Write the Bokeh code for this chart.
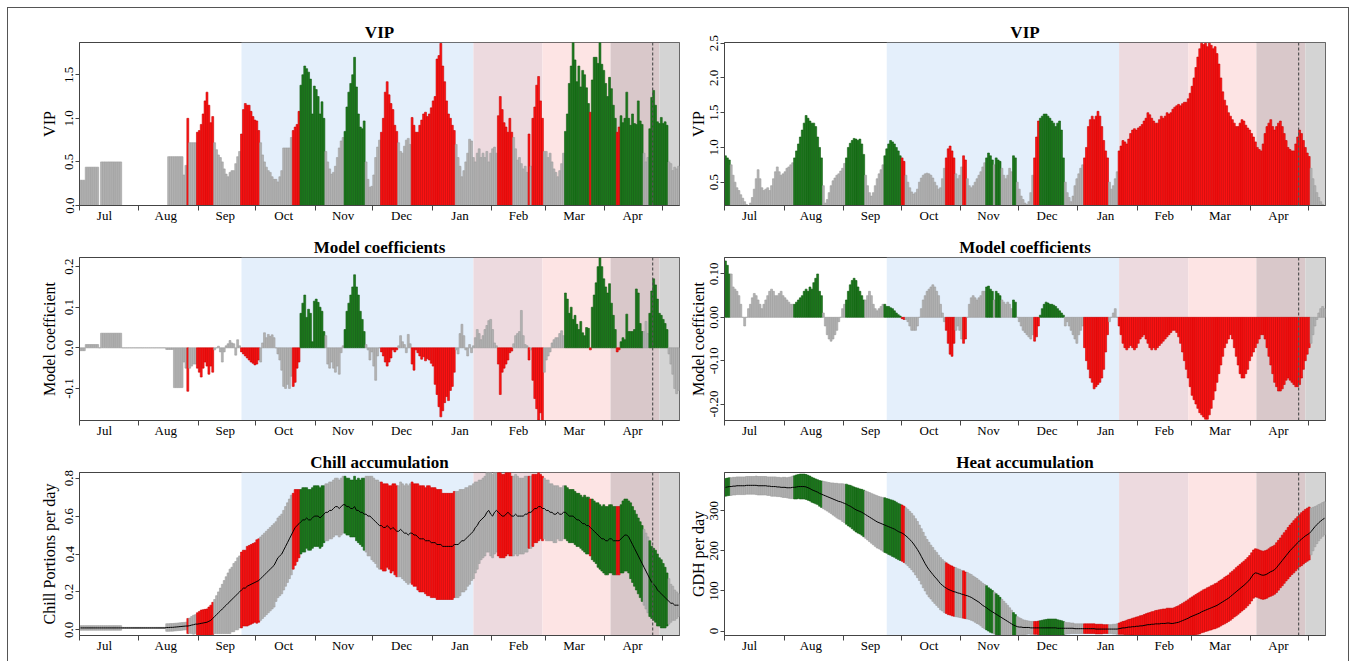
from bokeh.plotting import figure
from bokeh.models import ColumnDataSource, FixedTicker, Range1d, Span, BoxAnnotation, NumeralTickFormatter
from bokeh.layouts import gridplot, column
from bokeh.embed import file_html
from bokeh.resources import INLINE

# ---------------- data (one value per day, day 0 = 1 July) ----------------
N_DAYS = 313
MONTH_STARTS = [0, 31, 62, 92, 123, 153, 184, 215, 243, 274, 304]
MONTH_LABELS = ["Jul", "Aug", "Sep", "Oct", "Nov", "Dec", "Jan", "Feb", "Mar", "Apr"]
MONTH_LABEL_DAYS = [13, 45, 76, 106.5, 137.5, 168, 198.5, 229, 258, 288.5]
SHADE_EDGES = [84.5, 205.5, 241.5, 277.0, 302.5, 313.0]
SHADE_COLORS = ["#E4EFFB", "#EDDADF", "#FDE4E4", "#D9C8CA", "#D4D4D4"]
BLOOM_MEAN_DAY = 299.0
VIP_THRESHOLD = 0.8

VIP_L = ([0.29]*3 + [0.44]*7 + [0.0] + [0.50]*11 + [0.0]*23 + [0.0] + [0.56]*8 + [0.35, 0.46] + [1.0]
         + [0.72, 0.72, 0.72, 0.72]
         + [0.84, 0.86, 0.93, 1.05, 1.2, 1.3, 1.15, 0.95, 1.02]
         + [0.72, 0.64, 0.58, 0.55, 0.5, 0.42, 0.36, 0.33, 0.38, 0.4, 0.4, 0.48, 0.56] + [0.62]
         + [0.82, 1.1, 1.17, 1.15, 1.15, 1.08, 1.02, 0.98, 0.97, 0.86]
         + [0.72, 0.58, 0.5, 0.44, 0.4, 0.38, 0.33, 0.3]
         + [0.3, 0.27, 0.33, 0.4, 0.66, 0.66, 0.66, 0.66, 0.78]
         + [0.86, 0.9, 0.93, 1.08]
         + [1.38, 1.5, 1.6, 1.57, 1.53, 1.45, 1.05, 1.37, 1.33, 1.25, 1.05, 1.19, 1.0]
         + [0.62, 0.5, 0.42, 0.36, 0.38, 0.45, 0.55, 0.66, 0.74, 0.78]
         + [0.85, 1.13, 1.3, 1.4, 1.5, 1.7, 1.36, 1.05, 0.9, 0.88, 0.97]
         + [0.5, 0.3, 0.21, 0.22, 0.35, 0.55, 0.67, 0.75]
         + [0.84, 1.0, 1.3, 1.42, 1.27, 1.17, 1.1, 0.92, 0.85]
         + [0.72, 0.62, 0.6, 0.68, 0.75, 0.77, 0.7]
         + [1.01, 0.92, 0.84, 0.84, 0.92, 0.98, 1.05, 1.07, 1.02, 1.05, 1.12, 1.2, 1.25, 1.68, 1.72, 1.86,
            1.6, 1.42, 1.2, 1.05, 1.0, 0.92, 0.86]
         + [0.7, 0.55, 0.45, 0.33, 0.4, 0.5, 0.6, 0.76, 0.74, 0.55, 0.5, 0.6, 0.65, 0.55]
         + [0.6, 0.55, 0.62, 0.5, 0.6, 0.65, 0.67, 0.6]
         + [1.03, 1.25, 1.1, 0.95, 0.9, 0.84, 1.0, 0.84]
         + [0.78, 0.65, 0.52, 0.55, 0.48, 0.42, 0.45, 0.38]
         + [0.82, 0.45]
         + [1.0, 1.13, 1.38, 1.48, 1.2, 1.0]
         + [0.62, 0.62, 0.55, 0.6, 0.5, 0.42, 0.38, 0.33, 0.4, 0.48, 0.6]
         + [0.85, 1.05, 1.4, 1.6, 1.88, 1.67, 1.42, 1.6, 1.36, 1.55, 1.5, 1.35, 1.17]
         + [1.07]
         + [1.44, 1.7, 1.7, 1.63, 1.87, 1.62, 1.55, 1.4, 1.25, 1.47, 1.34, 1.15, 1.0]
         + [0.84, 0.9]
         + [1.03, 0.95, 1.0, 1.3, 1.0, 0.92, 1.05, 0.94, 0.93, 1.2, 0.97, 0.93]
         + [0.6, 0.5, 0.55]
         + [0.88, 1.24, 1.32, 1.15, 0.96, 0.94, 1.01, 0.94, 0.96, 0.92]
         + [0.5, 0.48, 0.4, 0.44, 0.42, 0.45])

COEF_L = ([-0.007]*3 + [0.008]*7 + [0.0] + [0.036]*11 + [0.0]*23 + [-0.004]*4 + [-0.098]*5
          + [-0.035, -0.05] + [-0.107] + [-0.05, -0.045, -0.04, -0.04]
          + [-0.05, -0.06, -0.072, -0.05, -0.035, -0.045, -0.065, -0.045, -0.06]
          + [-0.005, 0.0, 0.004, -0.01, -0.035, -0.01, 0.005, 0.01, 0.018, 0.012, 0.01, -0.018, 0.02] + [0.005]
          + [-0.01, -0.015, -0.02, -0.025, -0.03, -0.035, -0.038, -0.042, -0.04, -0.03]
          + [-0.035, 0.012, 0.037, 0.025, 0.033, 0.028, 0.032, 0.025]
          + [0.0, -0.015, -0.03, -0.055, -0.095, -0.1, -0.09, -0.1, -0.07]
          + [-0.095, -0.085, -0.05, -0.035]
          + [0.085, 0.11, 0.13, 0.075, 0.095, 0.085, 0.015, 0.115, 0.12, 0.112, 0.1, 0.09, 0.04]
          + [0.03, -0.04, -0.05, -0.035, -0.05, -0.06, -0.045, -0.065, -0.012, 0.005]
          + [0.045, 0.09, 0.11, 0.13, 0.15, 0.18, 0.15, 0.13, 0.09, 0.07, 0.04]
          + [0.008, -0.005, -0.03, -0.01, -0.045, -0.08, -0.02, 0.0]
          + [-0.01, -0.02, -0.035, -0.045, -0.035, -0.025, -0.005, -0.01, -0.005]
          + [0.005, 0.03, 0.015, 0.008, -0.012, 0.033, 0.01]
          + [-0.04, -0.055, -0.005, -0.012, -0.02, -0.028, -0.022, -0.032, -0.027, -0.03, -0.038, -0.045,
             -0.09, -0.115, -0.145, -0.17, -0.155, -0.135, -0.12, -0.13, -0.105, -0.095, -0.06]
          + [-0.005, -0.015, 0.035, 0.058, 0.03, -0.005, -0.02, 0.008, -0.012, 0.005, 0.025, 0.045, 0.035, 0.02]
          + [0.03, 0.045, 0.055, 0.067, 0.07, 0.045, 0.012, 0.005]
          + [-0.04, -0.115, -0.06, -0.05, -0.04, -0.03, -0.012, -0.008]
          + [0.01, 0.03, 0.035, 0.04, 0.092, 0.03, 0.008, 0.005]
          + [-0.03, -0.005]
          + [-0.08, -0.125, -0.15, -0.178, -0.16, -0.18]
          + [-0.06, -0.03, -0.02, -0.01, 0.012, 0.02, 0.025, 0.025, 0.035, 0.042, 0.03]
          + [0.135, 0.12, 0.085, 0.1, 0.07, 0.08, 0.058, 0.045, 0.065, 0.037, 0.03, 0.05, 0.048]
          + [-0.005]
          + [0.1, 0.13, 0.16, 0.2, 0.222, 0.2, 0.17, 0.15, 0.135, 0.158, 0.11, 0.08, 0.045]
          + [-0.01, -0.005]
          + [0.015, 0.025, 0.02, 0.083, 0.04, 0.04, 0.04, 0.045, 0.145, 0.135, 0.06, 0.04]
          + [0.04, 0.065, 0.035]
          + [0.085, 0.14, 0.17, 0.155, 0.12, 0.085, 0.08, 0.07, 0.06, 0.045]
          + [-0.015, -0.04, -0.065, -0.1, -0.113, -0.105])

CHILL_MEAN = ([0.01]*45
              + [0.012, 0.012, 0.013, 0.013, 0.014, 0.015, 0.016, 0.017, 0.018, 0.019, 0.02]
              + [0.02, 0.022, 0.025, 0.027, 0.03, 0.03, 0.032]
              + [0.034, 0.036, 0.038, 0.04, 0.045, 0.05, 0.06, 0.07]
              + [0.08, 0.09, 0.1, 0.11, 0.12, 0.13, 0.14, 0.15, 0.16, 0.17, 0.18, 0.19, 0.2, 0.21, 0.22]
              + [0.22, 0.23, 0.235, 0.24, 0.245, 0.25, 0.255, 0.26, 0.27, 0.28]
              + [0.29, 0.3, 0.31, 0.32, 0.33, 0.34, 0.36, 0.38, 0.39, 0.4, 0.42, 0.44, 0.46, 0.48, 0.5, 0.52,
                 0.54, 0.55, 0.56, 0.57]
              + [0.58, 0.58, 0.59, 0.58, 0.58, 0.59, 0.6, 0.6, 0.6, 0.59, 0.6, 0.61, 0.62, 0.62, 0.63]
              + [0.63, 0.64, 0.65, 0.65, 0.64, 0.65, 0.66, 0.66, 0.65, 0.65, 0.64, 0.64, 0.65, 0.63, 0.63,
                 0.62, 0.62, 0.61, 0.61, 0.6]
              + [0.6, 0.59, 0.58, 0.57, 0.56, 0.55, 0.55, 0.54, 0.54, 0.55, 0.54, 0.53, 0.54, 0.53, 0.52,
                 0.52, 0.53, 0.52, 0.51, 0.51]
              + [0.5, 0.51, 0.51, 0.5, 0.5, 0.49, 0.48, 0.48, 0.48, 0.47, 0.47, 0.47, 0.46, 0.46, 0.46,
                 0.45, 0.45, 0.45, 0.44, 0.44]
              + [0.44, 0.44, 0.44, 0.44, 0.45, 0.45, 0.45, 0.46, 0.47, 0.47]
              + [0.48, 0.49, 0.5, 0.51, 0.52, 0.54, 0.55, 0.57, 0.58, 0.59]
              + [0.6, 0.62, 0.63, 0.61, 0.6, 0.62, 0.63, 0.62, 0.61, 0.6, 0.6, 0.61, 0.62, 0.61, 0.6, 0.6,
                 0.61, 0.6, 0.6, 0.6]
              + [0.6, 0.61, 0.61, 0.62, 0.62, 0.63, 0.64, 0.64, 0.65, 0.65, 0.64, 0.64, 0.63, 0.63, 0.62,
                 0.62, 0.61, 0.61, 0.62, 0.61]
              + [0.61, 0.62, 0.62, 0.61, 0.6, 0.6, 0.6, 0.59, 0.58, 0.58, 0.57, 0.56, 0.56, 0.55, 0.55,
                 0.54, 0.53, 0.52, 0.51, 0.5]
              + [0.49, 0.48, 0.48, 0.47, 0.47, 0.48, 0.48, 0.47, 0.47]
              + [0.47, 0.47, 0.48, 0.49, 0.5, 0.5, 0.49, 0.47, 0.45, 0.43, 0.41, 0.39, 0.37, 0.35, 0.33,
                 0.31, 0.29, 0.27, 0.25, 0.24, 0.23, 0.21, 0.2, 0.19, 0.18, 0.17, 0.16, 0.15, 0.14, 0.14,
                 0.13, 0.13, 0.13])

CHILL_SD = ([0.012]*22 + [0.003]*23 + [0.02]*11
            + [0.04, 0.04, 0.045, 0.05, 0.05]
            + [0.06, 0.065, 0.07, 0.07, 0.07, 0.07, 0.075, 0.08, 0.085, 0.09]
            + [0.1, 0.11, 0.12, 0.13, 0.14, 0.15, 0.16, 0.17, 0.17, 0.18]
            + [0.18, 0.19, 0.19, 0.2, 0.2, 0.2, 0.21, 0.21, 0.21, 0.21, 0.21, 0.22, 0.22, 0.22, 0.22]
            + [0.22, 0.22, 0.22, 0.22, 0.22, 0.22, 0.21, 0.21, 0.21, 0.21, 0.21, 0.21, 0.21, 0.21, 0.21,
               0.2, 0.2, 0.19, 0.18, 0.17]
            + [0.17, 0.17, 0.16, 0.16, 0.16, 0.16, 0.16, 0.16, 0.16, 0.16,
               0.16, 0.15, 0.15, 0.15, 0.15, 0.15, 0.15, 0.15, 0.15, 0.15,
               0.15, 0.15, 0.15, 0.15, 0.15, 0.15, 0.15, 0.16, 0.16, 0.17, 0.17, 0.18, 0.19, 0.2, 0.21]
            + [0.21, 0.22, 0.22, 0.22, 0.23, 0.23, 0.23, 0.23, 0.23, 0.22, 0.22, 0.23, 0.23, 0.24, 0.24,
               0.24, 0.25, 0.25, 0.25, 0.26]
            + [0.26, 0.26, 0.27, 0.27, 0.27, 0.28, 0.28, 0.28, 0.28, 0.28, 0.29, 0.29, 0.29, 0.29, 0.29,
               0.29, 0.29, 0.29, 0.28, 0.28, 0.28, 0.28, 0.28, 0.28, 0.28]
            + [0.28, 0.28, 0.28, 0.27, 0.27, 0.27, 0.26, 0.26, 0.25, 0.25, 0.24, 0.23, 0.22, 0.21, 0.21]
            + [0.21, 0.21, 0.22, 0.22, 0.22, 0.22, 0.22, 0.23, 0.23, 0.22, 0.22, 0.22, 0.22, 0.22, 0.21,
               0.21, 0.21, 0.21, 0.2, 0.2, 0.2, 0.2, 0.2, 0.19, 0.19, 0.19, 0.18, 0.18, 0.18, 0.17]
            + [0.17, 0.16, 0.16, 0.16, 0.15, 0.15, 0.15, 0.15, 0.14, 0.14, 0.14, 0.14, 0.14, 0.14, 0.14,
               0.14, 0.14, 0.14, 0.14, 0.14, 0.14, 0.14, 0.15, 0.15, 0.15, 0.15, 0.16, 0.16, 0.16, 0.17]
            + [0.17, 0.17, 0.18, 0.18, 0.18, 0.18, 0.18, 0.18, 0.18, 0.18, 0.18, 0.18, 0.19, 0.19, 0.19,
               0.19, 0.2, 0.2, 0.2, 0.2]
            + [0.2, 0.2, 0.2, 0.2, 0.2, 0.2, 0.2, 0.19, 0.19, 0.19, 0.19, 0.18, 0.18, 0.17, 0.16, 0.14,
               0.12, 0.1, 0.09, 0.08, 0.07, 0.06])

VIP_R = ([0.88, 0.85, 0.82]
         + [0.75, 0.6, 0.5, 0.42, 0.38, 0.32, 0.27, 0.22, 0.18, 0.16]
         + [0.2, 0.28, 0.4, 0.55, 0.68, 0.55, 0.42, 0.38, 0.4, 0.42, 0.38, 0.45, 0.55, 0.65, 0.72, 0.65,
            0.6, 0.62, 0.65, 0.7, 0.72, 0.75, 0.78]
         + [0.85, 0.95, 1.05, 1.15, 1.25, 1.35, 1.46, 1.42, 1.38, 1.35, 1.35, 1.3, 1.15, 1.0, 0.85]
         + [0.45, 0.2, 0.25, 0.35, 0.45, 0.52, 0.56, 0.6, 0.62, 0.66, 0.7, 0.77]
         + [0.85, 1.0, 1.06, 1.1, 1.13, 1.12, 1.1, 1.12, 1.05, 0.9]
         + [0.6, 0.45, 0.35, 0.3, 0.35, 0.45, 0.55, 0.62, 0.68, 0.75]
         + [0.88, 0.98, 1.05, 1.1, 1.08, 1.05, 1.0, 0.95, 0.88]
         + [0.85, 0.8]
         + [0.6, 0.5, 0.42, 0.36, 0.33, 0.35, 0.4, 0.5, 0.56, 0.6, 0.62, 0.63, 0.62, 0.6, 0.56, 0.5, 0.45,
            0.4, 0.42, 0.55, 0.7]
         + [0.85, 0.98, 1.02, 0.95, 0.85]
         + [0.62, 0.55, 0.6, 0.72]
         + [0.88, 0.82]
         + [0.55, 0.45, 0.42, 0.45, 0.5, 0.55, 0.6, 0.65, 0.72, 0.78]
         + [0.85, 0.92, 0.88, 0.82] + [0.75] + [0.85, 0.82, 0.8]
         + [0.7, 0.6, 0.55, 0.6, 0.7, 0.65]
         + [0.88, 0.85]
         + [0.5, 0.4, 0.3, 0.25, 0.2, 0.18, 0.22, 0.35, 0.6]
         + [0.85, 1.15, 1.38]
         + [1.42, 1.45, 1.48, 1.48, 1.45, 1.42, 1.38, 1.35, 1.3, 1.35, 1.38, 1.25, 0.85]
         + [0.5, 0.35, 0.28, 0.22, 0.3, 0.45, 0.55, 0.62, 0.7, 0.75]
         + [0.85, 1.0, 1.3, 1.4, 1.45, 1.4, 1.45, 1.52, 1.45, 1.3, 1.1, 0.95, 0.85]
         + [0.5, 0.4, 0.45, 0.55, 0.65]
         + [0.95, 1.02, 1.1, 1.08, 1.05, 1.12, 1.2, 1.25, 1.27, 1.25,
            1.28, 1.3, 1.33, 1.38, 1.42, 1.5, 1.47, 1.42, 1.38, 1.35,
            1.35, 1.4, 1.45, 1.42, 1.45, 1.5, 1.48, 1.5, 1.55, 1.58,
            1.6, 1.62, 1.6, 1.63, 1.65, 1.65, 1.7, 1.78, 1.88, 2.0,
            2.15, 2.3, 2.42, 2.5, 2.48, 2.5, 2.45, 2.5, 2.47, 2.42,
            2.45, 2.35, 2.2, 2.0, 1.8, 1.68, 1.6, 1.5, 1.45, 1.4,
            1.35, 1.3, 1.3, 1.35, 1.4, 1.38, 1.32, 1.28, 1.25, 1.2,
            1.15, 1.08, 1.0, 0.97, 0.95, 1.05, 1.2, 1.3, 1.35, 1.4,
            1.3, 1.25, 1.3, 1.35, 1.38, 1.3, 1.2, 1.1, 1.0, 0.97,
            0.95, 0.95, 1.05, 1.15, 1.25, 1.2, 1.1, 1.0, 0.92, 0.87]
         + [0.7, 0.55, 0.45, 0.35, 0.28, 0.22, 0.18, 0.16])

COEF_R = ([0.13, 0.12, 0.1]
          + [0.1, 0.07, 0.065, 0.06, 0.05, 0.03, 0.0, -0.02, 0.0, 0.02]
          + [0.03, 0.045, 0.055, 0.05, 0.04, 0.03, 0.02, 0.03, 0.04, 0.05, 0.06, 0.065, 0.06, 0.05, 0.05,
             0.055, 0.06, 0.05, 0.045, 0.04, 0.035, 0.03, 0.03]
          + [0.03, 0.035, 0.04, 0.045, 0.05, 0.06, 0.065, 0.06, 0.07, 0.065, 0.08, 0.09, 0.1, 0.06, 0.05]
          + [0.01, -0.02, -0.04, -0.05, -0.055, -0.05, -0.04, -0.03, -0.01, 0.0, 0.02, 0.03]
          + [0.04, 0.06, 0.075, 0.085, 0.09, 0.085, 0.07, 0.06, 0.05, 0.04]
          + [0.04, 0.05, 0.06, 0.05, 0.03, 0.02, 0.015, 0.02, 0.025, 0.03]
          + [0.03, 0.025, 0.025, 0.022, 0.02, 0.015, 0.01, 0.006, 0.003]
          + [-0.003, -0.005]
          + [-0.005, -0.01, -0.02, -0.03, -0.03, -0.03, -0.02, 0.0, 0.02, 0.04, 0.05, 0.06, 0.065, 0.07,
             0.075, 0.07, 0.06, 0.05, 0.03, 0.01, -0.01]
          + [-0.03, -0.06, -0.085, -0.09, -0.06]
          + [-0.03, -0.02, -0.03, -0.05]
          + [-0.06, -0.05]
          + [0.0, 0.03, 0.045, 0.05, 0.045, 0.04, 0.045, 0.05, 0.06, 0.06]
          + [0.07, 0.072, 0.065, 0.06] + [0.04] + [0.06, 0.055, 0.05]
          + [0.04, 0.035, 0.03, 0.035, 0.03, 0.02]
          + [0.04, 0.035]
          + [0.0, -0.01, -0.02, -0.03, -0.035, -0.04, -0.045, -0.05, -0.04]
          + [-0.055, -0.045, -0.02]
          + [0.005, 0.02, 0.03, 0.035, 0.033, 0.03, 0.03, 0.028, 0.025, 0.02, 0.015, 0.01, 0.005]
          + [-0.02, -0.01, -0.02, -0.03, -0.04, -0.05, -0.06, -0.04, -0.03, -0.02]
          + [-0.07, -0.1, -0.12, -0.14, -0.15, -0.165, -0.16, -0.155, -0.15, -0.14, -0.12, -0.08, -0.04]
          + [-0.01, 0.0, 0.01, 0.02, 0.0]
          + [-0.02, -0.04, -0.06, -0.07, -0.075, -0.07, -0.065, -0.07, -0.075, -0.07,
             -0.06, -0.05, -0.045, -0.04, -0.05, -0.06, -0.07, -0.075, -0.07, -0.075,
             -0.07, -0.065, -0.06, -0.055, -0.05, -0.045, -0.04, -0.035, -0.03, -0.03,
             -0.035, -0.045, -0.06, -0.08, -0.1, -0.12, -0.14, -0.16, -0.18, -0.19,
             -0.2, -0.21, -0.22, -0.225, -0.23, -0.235, -0.235, -0.225, -0.21, -0.19,
             -0.17, -0.15, -0.13, -0.11, -0.09, -0.07, -0.06, -0.05, -0.04, -0.05,
             -0.07, -0.09, -0.11, -0.13, -0.14, -0.14, -0.13, -0.12, -0.1, -0.09,
             -0.08, -0.07, -0.06, -0.05, -0.04, -0.04, -0.05, -0.07, -0.09, -0.11,
             -0.13, -0.15, -0.16, -0.17, -0.17, -0.165, -0.155, -0.145, -0.14, -0.145,
             -0.15, -0.155, -0.16, -0.16, -0.155, -0.14, -0.12, -0.1, -0.085, -0.07]
          + [-0.06, -0.04, -0.02, -0.005, 0.01, 0.02, 0.025, 0.02])

HEAT_MEAN = ([358, 359, 360, 360, 361, 361, 362, 362, 362, 362,
              362, 363, 363, 363, 363, 363, 363, 362, 362, 362,
              362, 362, 361, 361, 360, 360, 360, 359, 359, 358,
              358, 358, 357, 357, 357, 358, 358, 359, 360, 360,
              360, 360, 359, 357, 355, 352, 350, 348, 346, 343,
              341, 339, 337, 335, 333, 331, 329, 327, 325, 323,
              322, 320, 318, 316, 313, 311, 308, 305, 302, 300,
              298, 296, 293, 290, 287, 284, 281, 278, 275, 272,
              270, 268, 266, 264, 262, 260, 258, 256, 254, 251,
              248, 246, 244, 241, 237, 233, 228, 223, 217, 210,
              203, 195, 186, 177, 168, 160, 153, 147, 141, 135,
              130, 124, 118, 114, 110, 107, 104, 102, 100, 98,
              97, 95, 94, 92, 91, 89, 88, 86, 84, 81,
              78, 75, 72, 68, 64, 61, 58, 54, 51, 48,
              45, 42, 39, 36, 33, 30, 27, 24, 21, 18,
              15, 13, 11, 10, 10, 9, 9, 9, 9, 8,
              8, 8, 8, 8, 8, 8, 8, 8, 8, 8,
              8, 8, 8, 7, 7, 7, 7, 7, 7, 7,
              7, 7, 6, 6, 6, 6, 6, 6, 6, 6,
              6, 6, 6, 5, 5, 5, 5, 5, 5, 5,
              5, 5, 5, 5, 5, 6, 7, 8, 8, 9,
              10, 10, 11, 11, 12, 12, 13, 13, 14, 15,
              16, 16, 17, 17, 18, 18, 18, 19, 19, 19,
              20, 20, 19, 19, 20, 21, 22, 24, 26, 28,
              30, 32, 35, 37, 39, 41, 43, 45, 48, 50,
              52, 54, 56, 58, 60, 62, 64, 67, 70, 73,
              76, 79, 82, 86, 90, 94, 98, 102, 106, 110,
              114, 118, 123, 128, 135, 142, 145, 144, 142, 140,
              139, 140, 142, 145, 148, 150, 153, 158, 164, 170,
              176, 182, 188, 194, 200, 205, 210, 215, 220, 225,
              229, 233, 237, 240, 243, 248, 254, 260, 265, 270,
              274, 278, 281])

HEAT_SD = ([22]*10
           + [22, 22, 22, 22, 22, 22, 23, 23, 23, 23, 23, 23, 23, 23, 24, 24, 24, 24, 24, 24, 25, 25, 25, 26,
              27, 28]
           + [29, 30, 30, 31, 31, 31, 31, 31, 31, 31, 31, 31, 31, 32, 33]
           + [34, 35, 36, 37, 38, 40, 41, 43, 44, 45, 47, 48]
           + [50, 51, 52, 53, 54, 55, 56, 56, 57, 58]
           + [59, 60, 61, 62, 63, 64, 65, 65, 66, 67]
           + [68, 68, 69, 69, 70, 70, 70, 70, 70, 70, 70]
           + [70, 70, 70, 70, 70, 70, 70, 69, 69, 69, 68, 68, 68, 67, 67, 66, 66, 65, 65, 64, 64]
           + [63, 63, 62, 62, 61, 61, 60, 60, 59, 59, 58]
           + [58, 57, 57, 56, 56, 56, 55, 55, 55, 55]
           + [55, 54, 54, 53, 52, 51, 50, 48, 46, 44, 42, 40, 37, 34, 31]
           + [28, 25, 23, 21, 19, 18, 17, 16, 16, 16]
           + [16, 16, 17, 18, 19, 20, 21, 22, 22, 22, 22, 22, 21, 20, 19, 17, 15, 14, 14, 13, 13, 12, 12, 12,
              12, 12]
           + [12]*10 + [11, 11, 11, 11, 11, 12, 12, 13]
           + [14, 15, 16, 17, 18, 19, 20, 21, 22, 23, 24, 25, 26, 27, 28, 29, 30, 31, 32, 33, 34, 35, 35, 36,
              36, 37, 37, 38, 38, 39, 40, 41, 42, 43, 44]
           + [45, 46, 47, 48, 49, 50, 51, 52, 52, 53, 53, 54, 54, 55, 55, 56, 56, 57, 57, 57, 58, 58, 58, 59,
              59, 59, 60, 60, 60, 60, 60, 60, 60, 60, 60, 60, 60, 60, 60, 60]
           + [60, 60, 60, 60, 61, 61, 61, 62, 62, 62, 63, 63, 63, 64, 64, 64, 65, 65, 65, 65, 66, 66, 66, 66,
              66]
           + [58, 54, 50, 47, 45, 43, 42, 41])

for _name, _arr in [("VIP_L", VIP_L), ("COEF_L", COEF_L), ("CHILL_MEAN", CHILL_MEAN), ("CHILL_SD", CHILL_SD),
                    ("VIP_R", VIP_R), ("COEF_R", COEF_R), ("HEAT_MEAN", HEAT_MEAN), ("HEAT_SD", HEAT_SD)]:
    print(_name, len(_arr))

# ---------------- styling ----------------
FONT = "Liberation Serif"
GREEN, GREEN_EDGE = "#1E7B1E", "#0F5A0F"
RED, RED_EDGE = "#FF1414", "#C80000"
GRAY, GRAY_EDGE = "#B4B4B4", "#9C9C9C"
FRAME_H = 163


def bar_colors(vip, coef):
    fills, edges = [], []
    for v, c in zip(vip, coef):
        if v >= VIP_THRESHOLD and c > 0:
            fills.append(GREEN); edges.append(GREEN_EDGE)
        elif v >= VIP_THRESHOLD and c < 0:
            fills.append(RED); edges.append(RED_EDGE)
        else:
            fills.append(GRAY); edges.append(GRAY_EDGE)
    return fills, edges


def make_fig(title, ylabel, yrange, yticks, yfmt, left, top_b, bottom_b):
    p = figure(frame_width=600 if left else 601, frame_height=FRAME_H,
               x_range=Range1d(0, N_DAYS), y_range=Range1d(*yrange),
               output_backend="svg", toolbar_location=None,
               min_border_left=71 if left else 42, min_border_right=3 if left else 23,
               min_border_top=top_b, min_border_bottom=bottom_b,
               title=title)
    p.title.align = "center"
    p.title.text_font = FONT
    p.title.text_font_size = "17px"
    p.title.text_font_style = "bold"
    p.title.text_color = "#000000"
    p.title.standoff = 2
    p.xgrid.visible = False
    p.ygrid.visible = False
    p.outline_line_color = "#444444"
    p.outline_line_width = 1
    p.background_fill_color = "white"
    p.border_fill_color = "white"
    for i, col in enumerate(SHADE_COLORS):
        p.add_layout(BoxAnnotation(left=SHADE_EDGES[i], right=SHADE_EDGES[i + 1], fill_color=col,
                                   fill_alpha=1.0, line_color=None, level="underlay"))
    xa = p.xaxis[0]
    xa.ticker = FixedTicker(ticks=MONTH_LABEL_DAYS, minor_ticks=MONTH_STARTS)
    xa.major_label_overrides = {c: lab for c, lab in zip(MONTH_LABEL_DAYS, MONTH_LABELS)}
    xa.major_tick_out = 0
    xa.major_tick_in = 0
    xa.minor_tick_out = 5
    xa.minor_tick_in = 0
    xa.minor_tick_line_color = "#444444"
    xa.axis_line_color = "#444444"
    xa.major_label_text_font = FONT
    xa.major_label_text_font_size = "13px"
    xa.major_label_text_color = "#000000"
    xa.major_label_standoff = -3
    ya = p.yaxis[0]
    ya.ticker = FixedTicker(ticks=yticks)
    ya.formatter = NumeralTickFormatter(format=yfmt)
    ya.major_label_orientation = "vertical"
    ya.major_tick_out = 4
    ya.major_tick_in = 0
    ya.minor_tick_out = 0
    ya.minor_tick_in = 0
    ya.axis_line_color = "#444444"
    ya.major_tick_line_color = "#444444"
    ya.major_label_text_font = FONT
    ya.major_label_text_font_size = "13px"
    ya.major_label_text_color = "#000000"
    ya.major_label_standoff = 2
    ya.axis_label = ylabel
    ya.axis_label_text_font = FONT
    ya.axis_label_text_font_size = "16px"
    ya.axis_label_text_font_style = "normal"
    ya.axis_label_text_color = "#000000"
    ya.axis_label_standoff = 5 if left else 1
    return p


def add_bars(p, values, fills, edges):
    src = ColumnDataSource(dict(x=[d + 0.5 for d in range(N_DAYS)], top=values, fill=fills, edge=edges))
    p.vbar(x="x", width=1.0, top="top", bottom=0, fill_color="fill", line_color="edge", line_width=0.6,
           source=src)


def add_band(p, mean, sd, fills, edges):
    src = ColumnDataSource(dict(x=[d + 0.5 for d in range(N_DAYS)],
                                lo=[m - s for m, s in zip(mean, sd)],
                                hi=[m + s for m, s in zip(mean, sd)],
                                mean=mean, fill=fills, edge=edges))
    p.vbar(x="x", width=1.0, top="hi", bottom="lo", fill_color="fill", line_color="edge", line_width=0.6,
           source=src)
    p.line(x="x", y="mean", source=src, line_color="black", line_width=1)


def add_bloom(p):
    p.add_layout(Span(location=BLOOM_MEAN_DAY, dimension="height", line_color="#555555", line_width=1.2,
                      line_dash="3 2"))


fill_l, edge_l = bar_colors(VIP_L, COEF_L)
fill_r, edge_r = bar_colors(VIP_R, COEF_R)

p1 = make_fig("VIP", "VIP", (0, 1.87), [0, 0.5, 1.0, 1.5], "0.0", True, 34, 26)
add_bars(p1, VIP_L, fill_l, edge_l); add_bloom(p1)
p2 = make_fig("VIP", "VIP", (0.165, 2.51), [0.5, 1.0, 1.5, 2.0, 2.5], "0.0", False, 34, 26)
add_bars(p2, VIP_R, fill_r, edge_r); add_bloom(p2)

p3 = make_fig("Model coefficients", "Model coefficient", (-0.179, 0.2225), [-0.1, 0.0, 0.1, 0.2], "0.0", True,
              26, 26)
add_bars(p3, COEF_L, fill_l, edge_l); add_bloom(p3)
p4 = make_fig("Model coefficients", "Model coefficient", (-0.238, 0.138), [-0.2, -0.1, 0.0, 0.1], "0.00",
              False, 26, 26)
add_bars(p4, COEF_R, fill_r, edge_r); add_bloom(p4)

p5 = make_fig("Chill accumulation", "Chill Portions per day", (-0.03, 0.83), [0.0, 0.2, 0.4, 0.6, 0.8], "0.0",
              True, 26, 26)
add_band(p5, CHILL_MEAN, CHILL_SD, fill_l, edge_l); add_bloom(p5)
p6 = make_fig("Heat accumulation", "GDH per day", (-11, 395), [0, 100, 200, 300], "0", False, 26, 26)
add_band(p6, HEAT_MEAN, HEAT_SD, fill_r, edge_r); add_bloom(p6)

grid = gridplot([[p1, p2], [p3, p4], [p5, p6]], toolbar_location=None)
layout = column(grid, styles={"border-top": "1px solid #555555", "border-left": "1px solid #555555",
                              "border-right": "1px solid #555555", "margin-left": "7px", "margin-top": "7px"})

open("out.html", "w").write(file_html(layout, INLINE))
